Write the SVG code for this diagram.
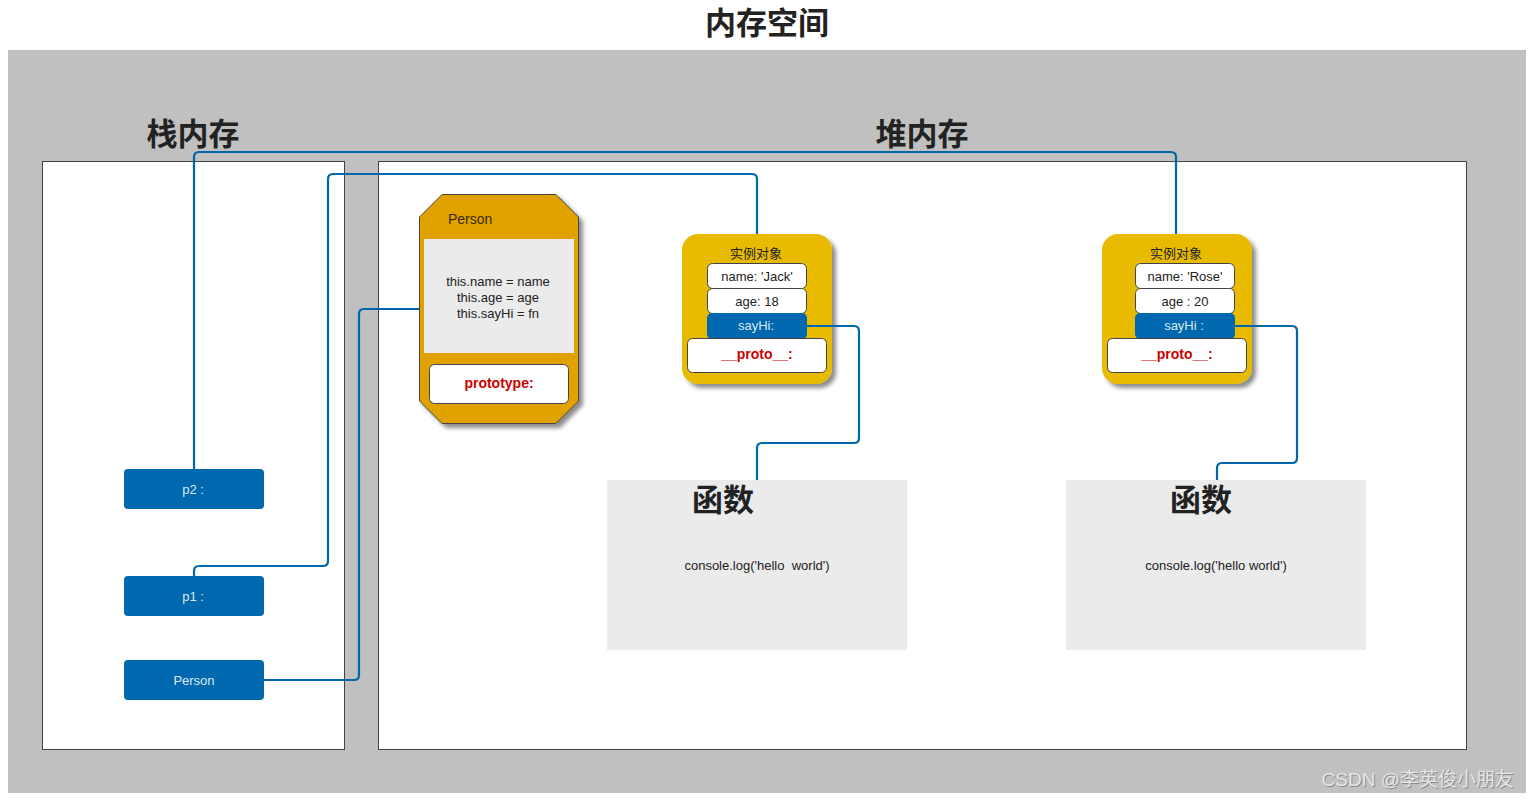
<svg xmlns="http://www.w3.org/2000/svg" width="1531" height="800" viewBox="0 0 1531 800">
<defs>
<filter id="sh" x="-10%" y="-10%" width="130%" height="130%"><feDropShadow dx="4" dy="4" stdDeviation="2" flood-color="#000" flood-opacity="0.45"/></filter>
</defs>
<style>
.t{font-family:"Liberation Sans","Noto Sans CJK SC",sans-serif}
.big{font-family:"Noto Sans CJK SC","Liberation Sans",sans-serif;font-weight:bold;font-size:31px;fill:#222}
.fld{fill:#fff;stroke:#444;stroke-width:1}
.blue{fill:#0068ae}
.conn{fill:none;stroke:#0068a8;stroke-width:2.2;stroke-linejoin:round}
.small{font-size:13px;fill:#222}
.red{font-size:14px;font-weight:bold;fill:#cc0000}
.wt{font-size:13px;fill:#dde8f2}
</style>
<rect width="1531" height="800" fill="#fff"/>
<rect x="8" y="50" width="1518" height="743" fill="#c0c0c0"/>
<text class="big" x="767" y="34" text-anchor="middle">内存空间</text>
<text class="big" x="193" y="145" text-anchor="middle">栈内存</text>
<text class="big" x="922" y="145" text-anchor="middle">堆内存</text>
<g id="stack"><rect x="42.5" y="161.5" width="302" height="588" fill="#fff" stroke="#444"/></g>
<g id="heap"><rect x="378.5" y="161.5" width="1088" height="588" fill="#fff" stroke="#444"/></g>

<g id="fn1">
<rect x="607" y="480" width="300" height="170" fill="#ebebeb"/>
<text class="big" x="723" y="511" text-anchor="middle">函数</text>
<text class="t small" x="757" y="570" text-anchor="middle" xml:space="preserve">console.log('hello  world')</text>
</g>
<g id="fn2">
<rect x="1066" y="480" width="300" height="170" fill="#ebebeb"/>
<text class="big" x="1201" y="511" text-anchor="middle">函数</text>
<text class="t small" x="1216" y="570" text-anchor="middle">console.log('hello world')</text>
</g>

<g id="personProto">
<polygon points="442,194.5 556,194.5 578.5,217 578.5,401 556,423.5 442,423.5 419.5,401 419.5,217" fill="#e1a200" stroke="#444" filter="url(#sh)"/>
<text class="t" x="448" y="224" font-size="14" fill="#3a2a00">Person</text>
<rect x="424" y="239" width="150" height="114" fill="#ebebeb"/>
<text class="t small" x="498" y="286" text-anchor="middle">this.name = name</text>
<text class="t small" x="498" y="302" text-anchor="middle">this.age = age</text>
<text class="t small" x="498" y="318" text-anchor="middle">this.sayHi = fn</text>
<rect class="fld" x="429.5" y="364.5" width="139" height="39" rx="5"/>
<text class="t red" x="499" y="388" text-anchor="middle">prototype:</text>
</g>

<g id="jack">
<rect x="682" y="234" width="150" height="150" rx="16" fill="#e9bb00" filter="url(#sh)"/>
<text class="t small" x="756" y="258" text-anchor="middle" fill="#3a2a00">实例对象</text>
<rect class="fld" x="707.5" y="263.5" width="99" height="25" rx="5"/>
<text class="t small" x="757" y="281" text-anchor="middle">name: 'Jack'</text>
<rect class="fld" x="707.5" y="288.5" width="99" height="25" rx="5"/>
<text class="t small" x="757" y="306" text-anchor="middle">age: 18</text>
<rect class="blue" x="707" y="313" width="100" height="26" rx="5"/>
<text class="t wt" x="756" y="330" text-anchor="middle">sayHi:</text>
<rect class="fld" x="687.5" y="338.5" width="139" height="34" rx="5"/>
<text class="t red" x="757" y="359" text-anchor="middle">__proto__:</text>
</g>

<g id="rose">
<rect x="1102" y="234" width="150" height="150" rx="16" fill="#e9bb00" filter="url(#sh)"/>
<text class="t small" x="1176" y="258" text-anchor="middle" fill="#3a2a00">实例对象</text>
<rect class="fld" x="1135.5" y="263.5" width="99" height="25" rx="5"/>
<text class="t small" x="1185" y="281" text-anchor="middle">name: 'Rose'</text>
<rect class="fld" x="1135.5" y="288.5" width="99" height="25" rx="5"/>
<text class="t small" x="1185" y="306" text-anchor="middle">age : 20</text>
<rect class="blue" x="1135" y="313" width="100" height="26" rx="5"/>
<text class="t wt" x="1184" y="330" text-anchor="middle">sayHi :</text>
<rect class="fld" x="1107.5" y="338.5" width="139" height="34" rx="5"/>
<text class="t red" x="1177" y="359" text-anchor="middle">__proto__:</text>
</g>

<g id="p2"><rect class="blue" x="124" y="469" width="140" height="40" rx="4"/><text class="t wt" x="193" y="494" text-anchor="middle">p2 :</text></g>
<g id="p1"><rect class="blue" x="124" y="576" width="140" height="40" rx="4"/><text class="t wt" x="193" y="601" text-anchor="middle">p1 :</text></g>
<g id="personVar"><rect class="blue" x="124" y="660" width="140" height="40" rx="4"/><text class="t wt" x="194" y="685" text-anchor="middle">Person</text></g>

<g id="connectors">
<path class="conn" d="M194 469 V157 Q194 152 199 152 H1171 Q1176 152 1176 157 V234"/>
<path class="conn" d="M194 576 V571 Q194 566 199 566 H323 Q328 566 328 561 V179 Q328 174 333 174 H752 Q757 174 757 179 V234"/>
<path class="conn" d="M263 680 H354 Q359 680 359 675 V314 Q359 309 364 309 H419"/>
<path class="conn" d="M806 326 H854 Q859 326 859 331 V438 Q859 443 854 443 H762 Q757 443 757 448 V480"/>
<path class="conn" d="M1234 326 H1292 Q1297 326 1297 331 V458 Q1297 463 1292 463 H1222 Q1217 463 1217 468 V480"/>
</g>

<text class="t" x="1515" y="787" text-anchor="end" font-size="19" fill="#8a8a8a">CSDN @李英俊小朋友</text>
<text class="t" x="1514" y="786" text-anchor="end" font-size="19" fill="#e6e6e6">CSDN @李英俊小朋友</text>
</svg>
